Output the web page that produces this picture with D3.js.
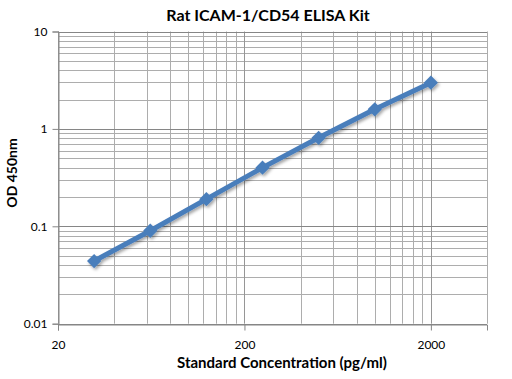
<!DOCTYPE html>
<html>
<head>
<meta charset="utf-8">
<script src="https://cdn.jsdelivr.net/npm/d3@7"></script>
<style>
  body { margin: 0; background: #fff; }
  text { font-family: Lato, "Open Sans", sans-serif; fill: #000; }
</style>
</head>
<body>
<svg id="chart" width="512" height="379"></svg>
<script>
// standard curve values
const conc = [31.25, 62.5, 125, 250, 500, 1000, 2000];
const od = [0.044, 0.09, 0.19, 0.40, 0.81, 1.59, 2.98];
const xTicks = [20, 200, 2000];
const yTicks = [0.01, 0.1, 1, 10];

const svg = d3.select("#chart");
const plotL = 58, plotR = 487, plotT = 31.5, plotB = 323.7;

const x = d3.scaleLog().domain([20, 4000]).range([plotL, plotR]);
const y = d3.scaleLog().domain([0.01, 10]).range([plotB, plotT]);

// minor grid values: 2..9 times each power
var xMinor = [];
[20, 200, 2000].forEach(function(b) {
    for (var k = 2; k <= 9; k++) {
        if (b * k <= 4000) xMinor.push(b * k);
    }
});
var yMinor = [];
[0.01, 0.1, 1].forEach(function(b) {
    for (var k = 2; k <= 9; k++) yMinor.push(b * k);
});

const grid = svg.append("g");
grid.selectAll("line.xm").data(xMinor).enter().append("line")
    .attr("x1", d => Math.round(x(d)) + 0.5).attr("x2", d => Math.round(x(d)) + 0.5)
    .attr("y1", plotT).attr("y2", plotB)
    .attr("stroke", "#adadad").attr("stroke-width", 1);
grid.selectAll("line.ym").data(yMinor).enter().append("line")
    .attr("y1", d => Math.round(y(d)) + 0.5).attr("y2", d => Math.round(y(d)) + 0.5)
    .attr("x1", plotL).attr("x2", plotR)
    .attr("stroke", "#adadad").attr("stroke-width", 1);
grid.selectAll("line.xM").data(xTicks).enter().append("line")
    .attr("x1", d => Math.round(x(d)) + 0.5).attr("x2", d => Math.round(x(d)) + 0.5)
    .attr("y1", plotT).attr("y2", plotB)
    .attr("stroke", "#969696").attr("stroke-width", 1);
grid.selectAll("line.yM").data(yTicks).enter().append("line")
    .attr("y1", d => Math.round(y(d)) + 0.5).attr("y2", d => Math.round(y(d)) + 0.5)
    .attr("x1", plotL).attr("x2", plotR)
    .attr("stroke", "#868686").attr("stroke-width", 1);

// axes
const xAxis = svg.append("g")
    .attr("transform", "translate(0," + (Math.round(plotB) + 0.5) + ")")
    .call(d3.axisBottom(x).tickValues(xTicks).tickFormat(d3.format("d")).tickSize(6).tickPadding(10));
const yAxis = svg.append("g")
    .attr("transform", "translate(" + (Math.round(plotL) + 0.5) + ",0)")
    .call(d3.axisLeft(y).tickValues(yTicks).tickFormat(d => String(d)).tickSize(6).tickPadding(5));
[xAxis, yAxis].forEach(function(a) {
    a.select(".domain").attr("stroke", "#868686");
    a.selectAll(".tick line").attr("stroke", "#868686");
    a.selectAll(".tick text").style("font-size", "12px").attr("fill", "#000");
});

// shadow for the series
const defs = svg.append("defs");
const f = defs.append("filter").attr("id", "shadow")
    .attr("x", "-20%").attr("y", "-20%").attr("width", "140%").attr("height", "140%");
f.append("feDropShadow").attr("dx", 1.5).attr("dy", 2).attr("stdDeviation", 1.5)
    .attr("flood-color", "#000").attr("flood-opacity", 0.35);

const pts = conc.map((c, i) => [c, od[i]]);
const series = svg.append("g").attr("filter", "url(#shadow)");
series.append("path")
    .datum(pts)
    .attr("d", d3.line().x(d => x(d[0])).y(d => y(d[1])))
    .attr("fill", "none")
    .attr("stroke", "#4a7ebb")
    .attr("stroke-width", 5)
    .attr("stroke-linejoin", "round");
series.selectAll("path.pt").data(pts).enter().append("path")
    .attr("class", "pt")
    .attr("d", d3.symbol().type(d3.symbolDiamond2).size(130))
    .attr("transform", d => "translate(" + x(d[0]) + "," + y(d[1]) + ")")
    .attr("fill", "#4a7ebb");

// titles
svg.append("text")
    .attr("x", 268).attr("y", 21)
    .attr("text-anchor", "middle")
    .style("font-size", "16px").style("font-weight", "bold")
    .text("Rat ICAM-1/CD54 ELISA Kit");
svg.append("text")
    .attr("x", 282).attr("y", 368)
    .attr("text-anchor", "middle")
    .style("font-size", "15px").style("font-weight", "bold")
    .text("Standard Concentration (pg/ml)");
svg.append("text")
    .attr("transform", "translate(17,173) rotate(-90)")
    .attr("text-anchor", "middle")
    .style("font-size", "14px").style("font-weight", "bold")
    .text("OD 450nm");
</script>
</body>
</html>
